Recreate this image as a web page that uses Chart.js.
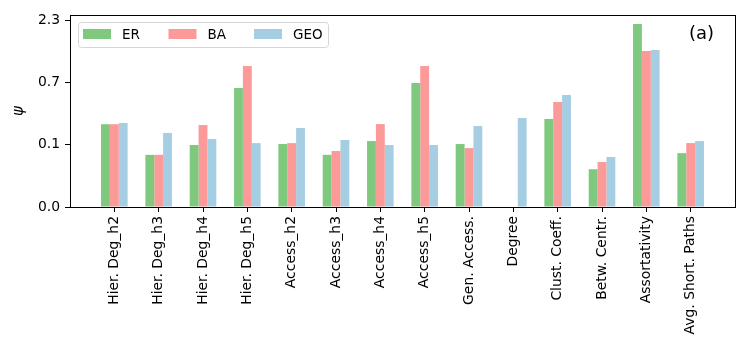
<!DOCTYPE html>
<html>
<head>
<meta charset="utf-8">
<script src="https://cdn.jsdelivr.net/npm/chart.js@4/dist/chart.umd.min.js"></script>
<style>
  html, body { margin: 0; padding: 0; background: #fff; }
  #wrap { width: 750px; height: 350px; }
</style>
</head>
<body>
<div id="wrap"><canvas id="c" width="750" height="350"></canvas></div>
<script>
// ---- data ----
const categories = ['Hier. Deg_h2', 'Hier. Deg_h3', 'Hier. Deg_h4', 'Hier. Deg_h5',
  'Access_h2', 'Access_h3', 'Access_h4', 'Access_h5', 'Gen. Access.', 'Degree',
  'Clust. Coeff.', 'Betw. Centr.', 'Assortativity', 'Avg. Short. Paths'];
const seriesNames = ['ER', 'BA', 'GEO'];
const erValues  = [0.200, 0.050, 0.084, 0.594, 0.088, 0.050, 0.101, 0.672, 0.088, 0, 0.240, 0.019, 2.159, 0.055];
const baValues  = [0.200, 0.050, 0.194, 0.988, 0.092, 0.062, 0.201, 0.988, 0.072, 0, 0.408, 0.032, 1.338, 0.092];
const geoValues = [0.209, 0.143, 0.111, 0.092, 0.174, 0.106, 0.084, 0.084, 0.187, 0.248, 0.495, 0.044, 1.364, 0.101];
const CUBE_C = 0.0852;                       // value at first non-zero tick (cube-root scale)
const yTickValues = [0, CUBE_C, 8 * CUBE_C, 27 * CUBE_C];
const yTickLabels = ['0.0', '0.1', '0.7', '2.3'];
const yMax = CUBE_C * Math.pow(3.082, 3);
const panelLabel = '(a)';

// ---- cube-root scale ----
class CubeRootScale extends Chart.LinearScale {
  buildTicks() { return yTickValues.map(v => ({ value: v })); }
  configure() {
    super.configure();
    this._uMax = Math.cbrt(this.max / CUBE_C);
  }
  getPixelForValue(value) {
    if (value === null || value === undefined || isNaN(value)) return NaN;
    const u = Math.cbrt(Math.max(value, 0) / CUBE_C);
    return this.getPixelForDecimal(u / this._uMax);
  }
  getValueForPixel(pixel) {
    const u = this.getDecimalForPixel(pixel) * this._uMax;
    return CUBE_C * u * u * u;
  }
}
CubeRootScale.id = 'cuberoot';
CubeRootScale.defaults = Chart.LinearScale.defaults;
Chart.register(CubeRootScale);

const FONT = "'DejaVu Sans', sans-serif";
const colors = ['#7fc97f', '#fb9a99', '#a6cee3'];
const labels = [''].concat(categories, ['']);
const pad = arr => [null].concat(arr, [null]);
const seriesData = [erValues, baValues, geoValues];

const framePlugin = {
  id: 'frame',
  afterDraw(chart) {
    const { ctx, chartArea: a } = chart;
    ctx.save();
    ctx.strokeStyle = '#000';
    ctx.lineWidth = 1;
    ctx.strokeRect(Math.round(a.left) + 0.5, Math.round(a.top) + 0.5,
                   Math.round(a.right - a.left), Math.round(a.bottom - a.top));
    // panel label
    ctx.fillStyle = '#000';
    ctx.font = '18px ' + FONT;
    ctx.textAlign = 'right';
    ctx.textBaseline = 'middle';
    ctx.fillText(panelLabel, a.right - 21, a.top + 19);
    // legend
    const lx = a.left + 8, ly = a.top + 7, lw = 250, lh = 25;
    ctx.beginPath();
    if (ctx.roundRect) ctx.roundRect(lx + 0.5, ly + 0.5, lw, lh, 3); else ctx.rect(lx + 0.5, ly + 0.5, lw, lh);
    ctx.fillStyle = 'rgba(255,255,255,0.8)';
    ctx.fill();
    ctx.strokeStyle = '#d6d6d6';
    ctx.stroke();
    ctx.font = '13.5px ' + FONT;
    ctx.textAlign = 'left';
    chart.data.datasets.forEach((ds, i) => {
      const px = lx + 5 + i * 85.5;
      ctx.fillStyle = ds.backgroundColor;
      ctx.fillRect(px, ly + 7, 28, 10);
      ctx.fillStyle = '#000';
      ctx.fillText(ds.label, px + 39, ly + 13);
    });
    ctx.restore();
  }
};

new Chart(document.getElementById('c'), {
  type: 'bar',
  data: {
    labels: labels,
    datasets: seriesNames.map((n, i) => ({
      label: n,
      data: pad(seriesData[i]),
      backgroundColor: colors[i],
      borderWidth: 0,
      categoryPercentage: 0.6,
      barPercentage: 1.0
    }))
  },
  options: {
    responsive: false,
    animation: false,
    layout: { padding: { left: 0, right: 15, top: 15, bottom: 0 } },
    plugins: { legend: { display: false }, tooltip: { enabled: false } },
    scales: {
      x: {
        type: 'category',
        offset: false,
        grid: {
          display: true, offset: false, drawOnChartArea: false, drawTicks: true, tickLength: 5, tickWidth: 1,
          color: ctx => (ctx.index === 0 || ctx.index === labels.length - 1) ? 'rgba(0,0,0,0)' : '#000'
        },
        border: { display: true, color: '#000', width: 1 },
        ticks: {
          autoSkip: false, maxRotation: 90, minRotation: 90, padding: 4,
          color: '#000', font: { family: FONT, size: 13.9 }
        },
        afterFit: s => { s.height = 143; s.paddingLeft = 0; s.paddingRight = 0; }
      },
      y: {
        type: 'cuberoot',
        min: 0,
        max: yMax,
        grid: { display: true, drawOnChartArea: false, drawTicks: true, tickLength: 5, color: '#000' },
        border: { display: true, color: '#000', width: 1 },
        ticks: {
          padding: 5, color: '#000', font: { family: FONT, size: 13.9 },
          callback: (v, i) => yTickLabels[i]
        },
        title: {
          display: true, text: 'ψ', color: '#000',
          font: { family: FONT, size: 15, style: 'italic' },
          padding: { top: 10, bottom: 0 }
        },
        afterFit: s => { s.width = 70; s.paddingTop = 0; s.paddingBottom = 0; }
      }
    }
  },
  plugins: [framePlugin]
});
</script>
</body>
</html>
